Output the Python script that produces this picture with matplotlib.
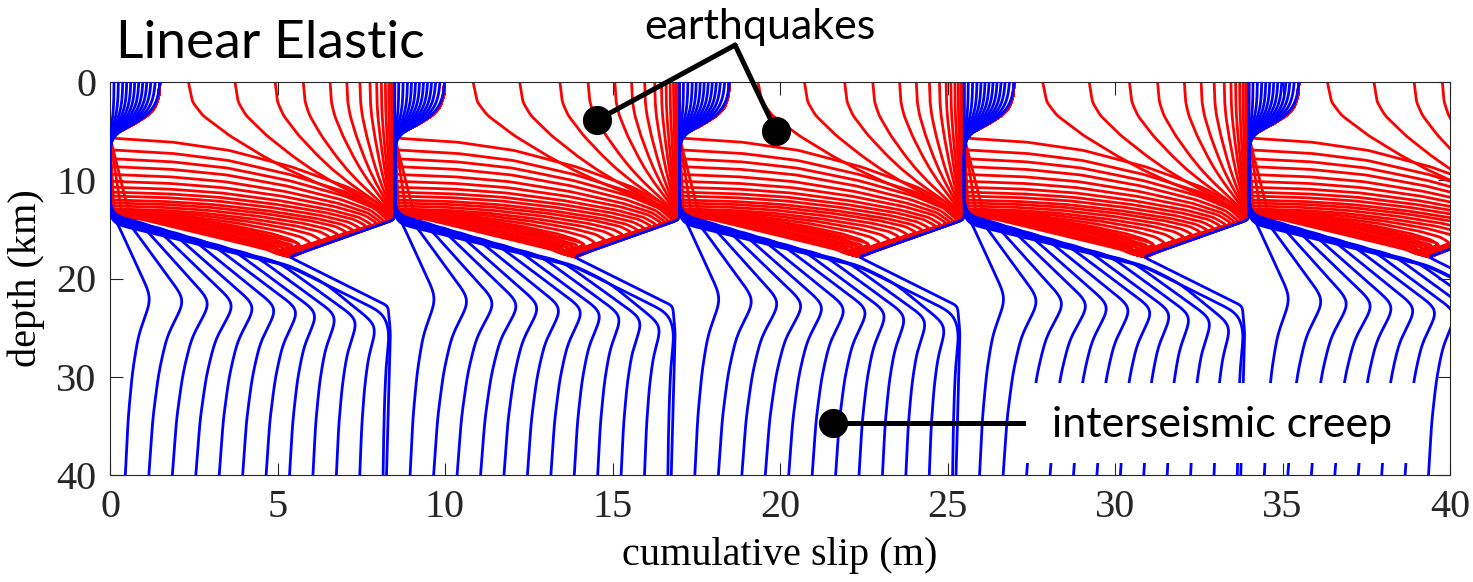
import numpy as np
import matplotlib
matplotlib.use("Agg")
import matplotlib.pyplot as plt

# ---------------- data ----------------
# slip (m) at which each seismic cycle starts; earthquakes slip ~8.5 m
event_offsets = [0.0, 8.5, 17.0, 25.5, 34.0]

# interseismic (blue) profiles of one cycle, slip relative to cycle start (m)
blue_bottom_slip = [0.45, 1.15, 1.85, 2.55, 3.25, 3.95, 4.65, 5.35, 6.05, 6.75, 7.45, 8.15]
blue_bulge_slip = [1.25, 2.25, 3.02, 3.74, 4.36, 5.01, 5.66, 6.22, 6.80, 7.42, 7.98, 8.35]
blue_bulge_depth = [22.0, 22.2, 22.4, 22.6, 22.8, 23.0, 23.2, 23.5, 23.8, 24.2, 24.8, 25.5]
blue_depart_slip = [0.10, 0.45, 0.85, 1.30, 1.80, 2.35, 2.95, 3.60, 4.30, 5.00, 6.40, 8.20]
blue_band_shift = [0.0, 0.05, 0.1, 0.15, 0.25, 0.35, 0.45, 0.55, 0.65, 0.75, 0.85, 0.95]
blue_surface_slip = [0.12, 0.25, 0.38, 0.50, 0.62, 0.74, 0.86, 0.98, 1.10, 1.22, 1.35, 1.49]
post_eq_bottom_slip = 8.25

# shallow creeping layer profile (normalised)
arc_depth = [0.0, 1.4, 2.6, 3.4, 4.3, 5.0, 5.6]
arc_frac = [1.0, 0.98, 0.90, 0.75, 0.47, 0.20, 0.0]
# decay of the post-seismic bulge with depth (normalised)
decay_u = [0.0, 0.1, 0.2, 0.4, 0.65, 1.0]
decay_frac = [1.0, 0.75, 0.5, 0.28, 0.12, 0.0]

# pre-earthquake profile at the base of the locked zone
band_depth = [13.4, 17.8, 22.8]
band_slip = [0.0, 5.35, 8.3]
# post-earthquake profile in the transition zone
final_depth = [14.0, 17.8]
final_slip = [8.5, 5.35]

# coseismic (red): earliest snapshots, offset from the pre-event profile (m)
red_early_offset = [0.25, 0.5, 0.75, 1.0, 1.3, 1.6, 2.0]
red_early_top = [13.8, 13.7, 13.6, 13.5, 13.4, 13.3, 13.2]
red_early_gap = [1.0, 0.95, 0.9, 0.85, 0.8, 0.75, 0.7]
# coseismic (red): buried rupture, top of rupture (km), depth where it joins the
# final profile and remaining slip deficit there (m)
red_top_depth = [13.9, 13.7, 13.5, 13.3, 13.1, 12.9, 12.6, 12.3, 12.0, 11.6, 11.2, 10.7,
                 10.1, 9.4, 8.6, 7.8, 6.9, 5.7]
red_meet_depth = [17.3, 17.0, 16.7, 16.4, 16.1, 15.8, 15.55, 15.3, 15.1, 14.9, 14.7, 14.55,
                  14.4, 14.3, 14.2, 14.1, 14.05, 14.0]
red_meet_gap = [0.65, 0.6, 0.55, 0.5, 0.45, 0.42, 0.38, 0.34, 0.3, 0.27, 0.24, 0.21,
                0.18, 0.15, 0.13, 0.11, 0.09, 0.07]
arm_u = [0.0, 0.05, 0.15, 0.35, 0.6, 0.8, 1.0]
arm_g = [0.0, 0.22, 0.42, 0.64, 0.84, 0.95, 1.0]
# coseismic profiles after rupture reached the surface
red_surface_slip = [2.34, 3.73, 4.93, 5.77, 6.57, 7.07, 7.46, 7.76, 7.96,
                    8.10, 8.22, 8.32, 8.40, 8.46, 8.50]
red_surface_gap = [0.06, 0.06, 0.05, 0.05, 0.05, 0.04, 0.04, 0.04, 0.03,
                   0.03, 0.03, 0.02, 0.02, 0.02, 0.02]
top_v = [0.0, 0.15, 0.25, 0.4, 0.55, 0.65, 0.75, 0.85, 0.93, 1.0]
top_f = [0.0, 0.02, 0.07, 0.2, 0.36, 0.48, 0.62, 0.78, 0.9, 1.0]

x_ticks = [0, 5, 10, 15, 20, 25, 30, 35, 40]
y_ticks = [0, 10, 20, 30, 40]

# ---------------- helpers ----------------
PX_X, PX_Z = 33.5, 9.83   # pixels per metre / per km (only used for smoothing)


def band(z):
    return np.interp(z, band_depth, band_slip)


def band_inv(x):
    return np.interp(x, band_slip, band_depth)


def final(z):
    return np.interp(z, final_depth, final_slip)


def inside_v(z, x):
    """keep a coseismic profile between pre-event and final profiles"""
    return max(min(x, final(z)), band(z) + 0.05)


def pre_slip(z):
    if z < arc_depth[-1]:
        return blue_surface_slip[-1] * np.interp(z, arc_depth, arc_frac)
    return band(z) if z >= band_depth[0] else 0.0


def gsmooth(pts, sigma):
    P = np.asarray(pts, float) * [PX_X, PX_Z]
    d = np.hypot(*np.diff(P, axis=0).T)
    keep = np.concatenate([[True], d > 1e-9])
    P = P[keep]
    d = np.hypot(*np.diff(P, axis=0).T)
    s = np.concatenate([[0], np.cumsum(d)])
    n = max(int(s[-1]) + 2, 4)
    ss = np.linspace(0, s[-1], n)
    x = np.interp(ss, s, P[:, 0])
    y = np.interp(ss, s, P[:, 1])
    if sigma > 0:
        r = int(3 * sigma)
        k = np.exp(-0.5 * (np.arange(-r, r + 1) / sigma) ** 2)
        k /= k.sum()
        x = np.convolve(np.pad(x, r, mode="reflect", reflect_type="odd"), k, "valid")
        y = np.convolve(np.pad(y, r, mode="reflect", reflect_type="odd"), k, "valid")
    return np.column_stack([x / PX_X, y / PX_Z])


def blue_profile(k):
    sh = blue_band_shift[k]
    pts = [(blue_surface_slip[k] * f, z) for z, f in zip(arc_depth, arc_frac)]
    pts += [(0.0, band_depth[0] + sh)]
    zd = band_inv(blue_depart_slip[k]) + sh
    for bz in band_depth[1:]:
        if bz + sh < zd:
            pts.append((band(bz), bz + sh))
    pts.append((blue_depart_slip[k], zd))
    zb, xb, xbot = blue_bulge_depth[k], blue_bulge_slip[k], blue_bottom_slip[k]
    for u, f in zip(decay_u, decay_frac):
        pts.append((xbot + (xb - xbot) * f, zb + u * (40.5 - zb)))
    return gsmooth(pts, 9)


def post_eq_profile():
    pts = [(8.5, 0.0), (8.5, final_depth[0]), (final_slip[1], final_depth[1]),
           (band_slip[2], band_depth[2]), (8.37, 25.5), (post_eq_bottom_slip, 40.5)]
    return gsmooth(pts, 3)


def red_early(j):
    dt, off, gap = red_early_top[j], red_early_offset[j], red_early_gap[j]
    pts = [(pre_slip(z), z) for z in arc_depth]
    pts.append((0.0, dt))
    for z in np.linspace(band_depth[0] + 0.3, final_depth[1], 24):
        pts.append((inside_v(z, min(band(z) + off, final(z) - gap)), z))
    return gsmooth(pts, 2.5)


def red_buried(j):
    dt, zm, gap = red_top_depth[j], red_meet_depth[j], red_meet_gap[j]
    pts = [(pre_slip(z), z) for z in arc_depth if z < dt]
    x0 = pre_slip(dt)
    xm = final(zm) - gap
    for u, g in zip(arm_u, arm_g):
        pts.append((x0 + (xm - x0) * g, dt + u * (zm - dt)))
    for z in np.linspace(zm, final_depth[1], 14)[1:]:
        pts.append((inside_v(z, final(z) - gap), z))
    return gsmooth(pts, 2.5)


def red_surface(j):
    xt, gap = red_surface_slip[j], red_surface_gap[j]
    pts = [(xt + (8.45 - xt) * f, v * 13.6) for v, f in zip(top_v, top_f)]
    for z in np.linspace(final_depth[0], final_depth[1], 6):
        pts.append((inside_v(z, final(z) - gap), z))
    return gsmooth(pts, 2.5)


# ---------------- figure ----------------
W, H = 1473, 582
fig = plt.figure(figsize=(W / 100, H / 100), dpi=100)
ax = fig.add_axes([110 / W, 107 / H, 1340 / W, 393 / H])

lw = 2.0
red, blue = (1, 0, 0), (0, 0, 1)
for x0 in event_offsets:
    for j in range(len(red_early_offset)):
        p = red_early(j)
        ax.plot(p[:, 0] + x0, p[:, 1], color=red, lw=lw, zorder=2)
    for j in range(len(red_top_depth)):
        p = red_buried(j)
        ax.plot(p[:, 0] + x0, p[:, 1], color=red, lw=lw, zorder=2)
    for j in range(len(red_surface_slip)):
        p = red_surface(j)
        ax.plot(p[:, 0] + x0, p[:, 1], color=red, lw=lw, zorder=2)
for x0 in event_offsets:
    for k in range(len(blue_bottom_slip)):
        p = blue_profile(k)
        ax.plot(p[:, 0] + x0, p[:, 1], color=blue, lw=lw, zorder=3)
    p = post_eq_profile()
    ax.plot(p[:, 0] + x0, p[:, 1], color=blue, lw=lw, zorder=3)

ax.set_xlim(0, 40)
ax.set_ylim(40, 0)
ax.set_xticks(x_ticks)
ax.set_yticks(y_ticks)
serif = "Liberation Serif"
for lab in ax.get_xticklabels() + ax.get_yticklabels():
    lab.set_fontfamily(serif)
    lab.set_fontsize(29)
ax.tick_params(direction="in", top=True, right=True, length=9, width=0.8,
               colors="#262626", pad=10)
for s in ax.spines.values():
    s.set_color("#262626")
    s.set_linewidth(0.8)
ax.set_xlabel("cumulative slip (m)", fontfamily=serif, fontsize=29, labelpad=8)
ax.set_ylabel("depth (km)", fontfamily=serif, fontsize=29, labelpad=8)

sans = "Lato"
fig.text(116 / W, 1 - 58 / H, "Linear Elastic", fontfamily=sans, fontsize=38.5,
         ha="left", va="baseline")

# earthquakes annotation
ax.text(19.4, -5.6, "earthquakes", fontfamily=sans, fontsize=31, ha="center",
        va="center", clip_on=False, zorder=10)
for (xd, zd) in [(14.54, 3.87), (19.88, 4.98)]:
    ax.plot([18.66, xd], [-3.76, zd], color="black", lw=3.6, clip_on=False, zorder=10,
            solid_capstyle="round")
    ax.plot(xd, zd, "o", color="black", ms=20, clip_on=False, zorder=11)

# interseismic creep annotation
ax.add_patch(plt.Rectangle((27.25, 30.6), 39.16 - 27.25, 38.75 - 30.6,
                           facecolor="white", edgecolor="none", zorder=9))
ax.plot([21.58, 27.25], [34.7, 34.7], color="black", lw=3.6, zorder=10)
ax.plot(21.58, 34.7, "o", color="black", ms=20, zorder=11)
ax.text(33.2, 34.9, "interseismic creep", fontfamily=sans, fontsize=31,
        ha="center", va="center", zorder=12)

fig.savefig("out.png", dpi=100)
